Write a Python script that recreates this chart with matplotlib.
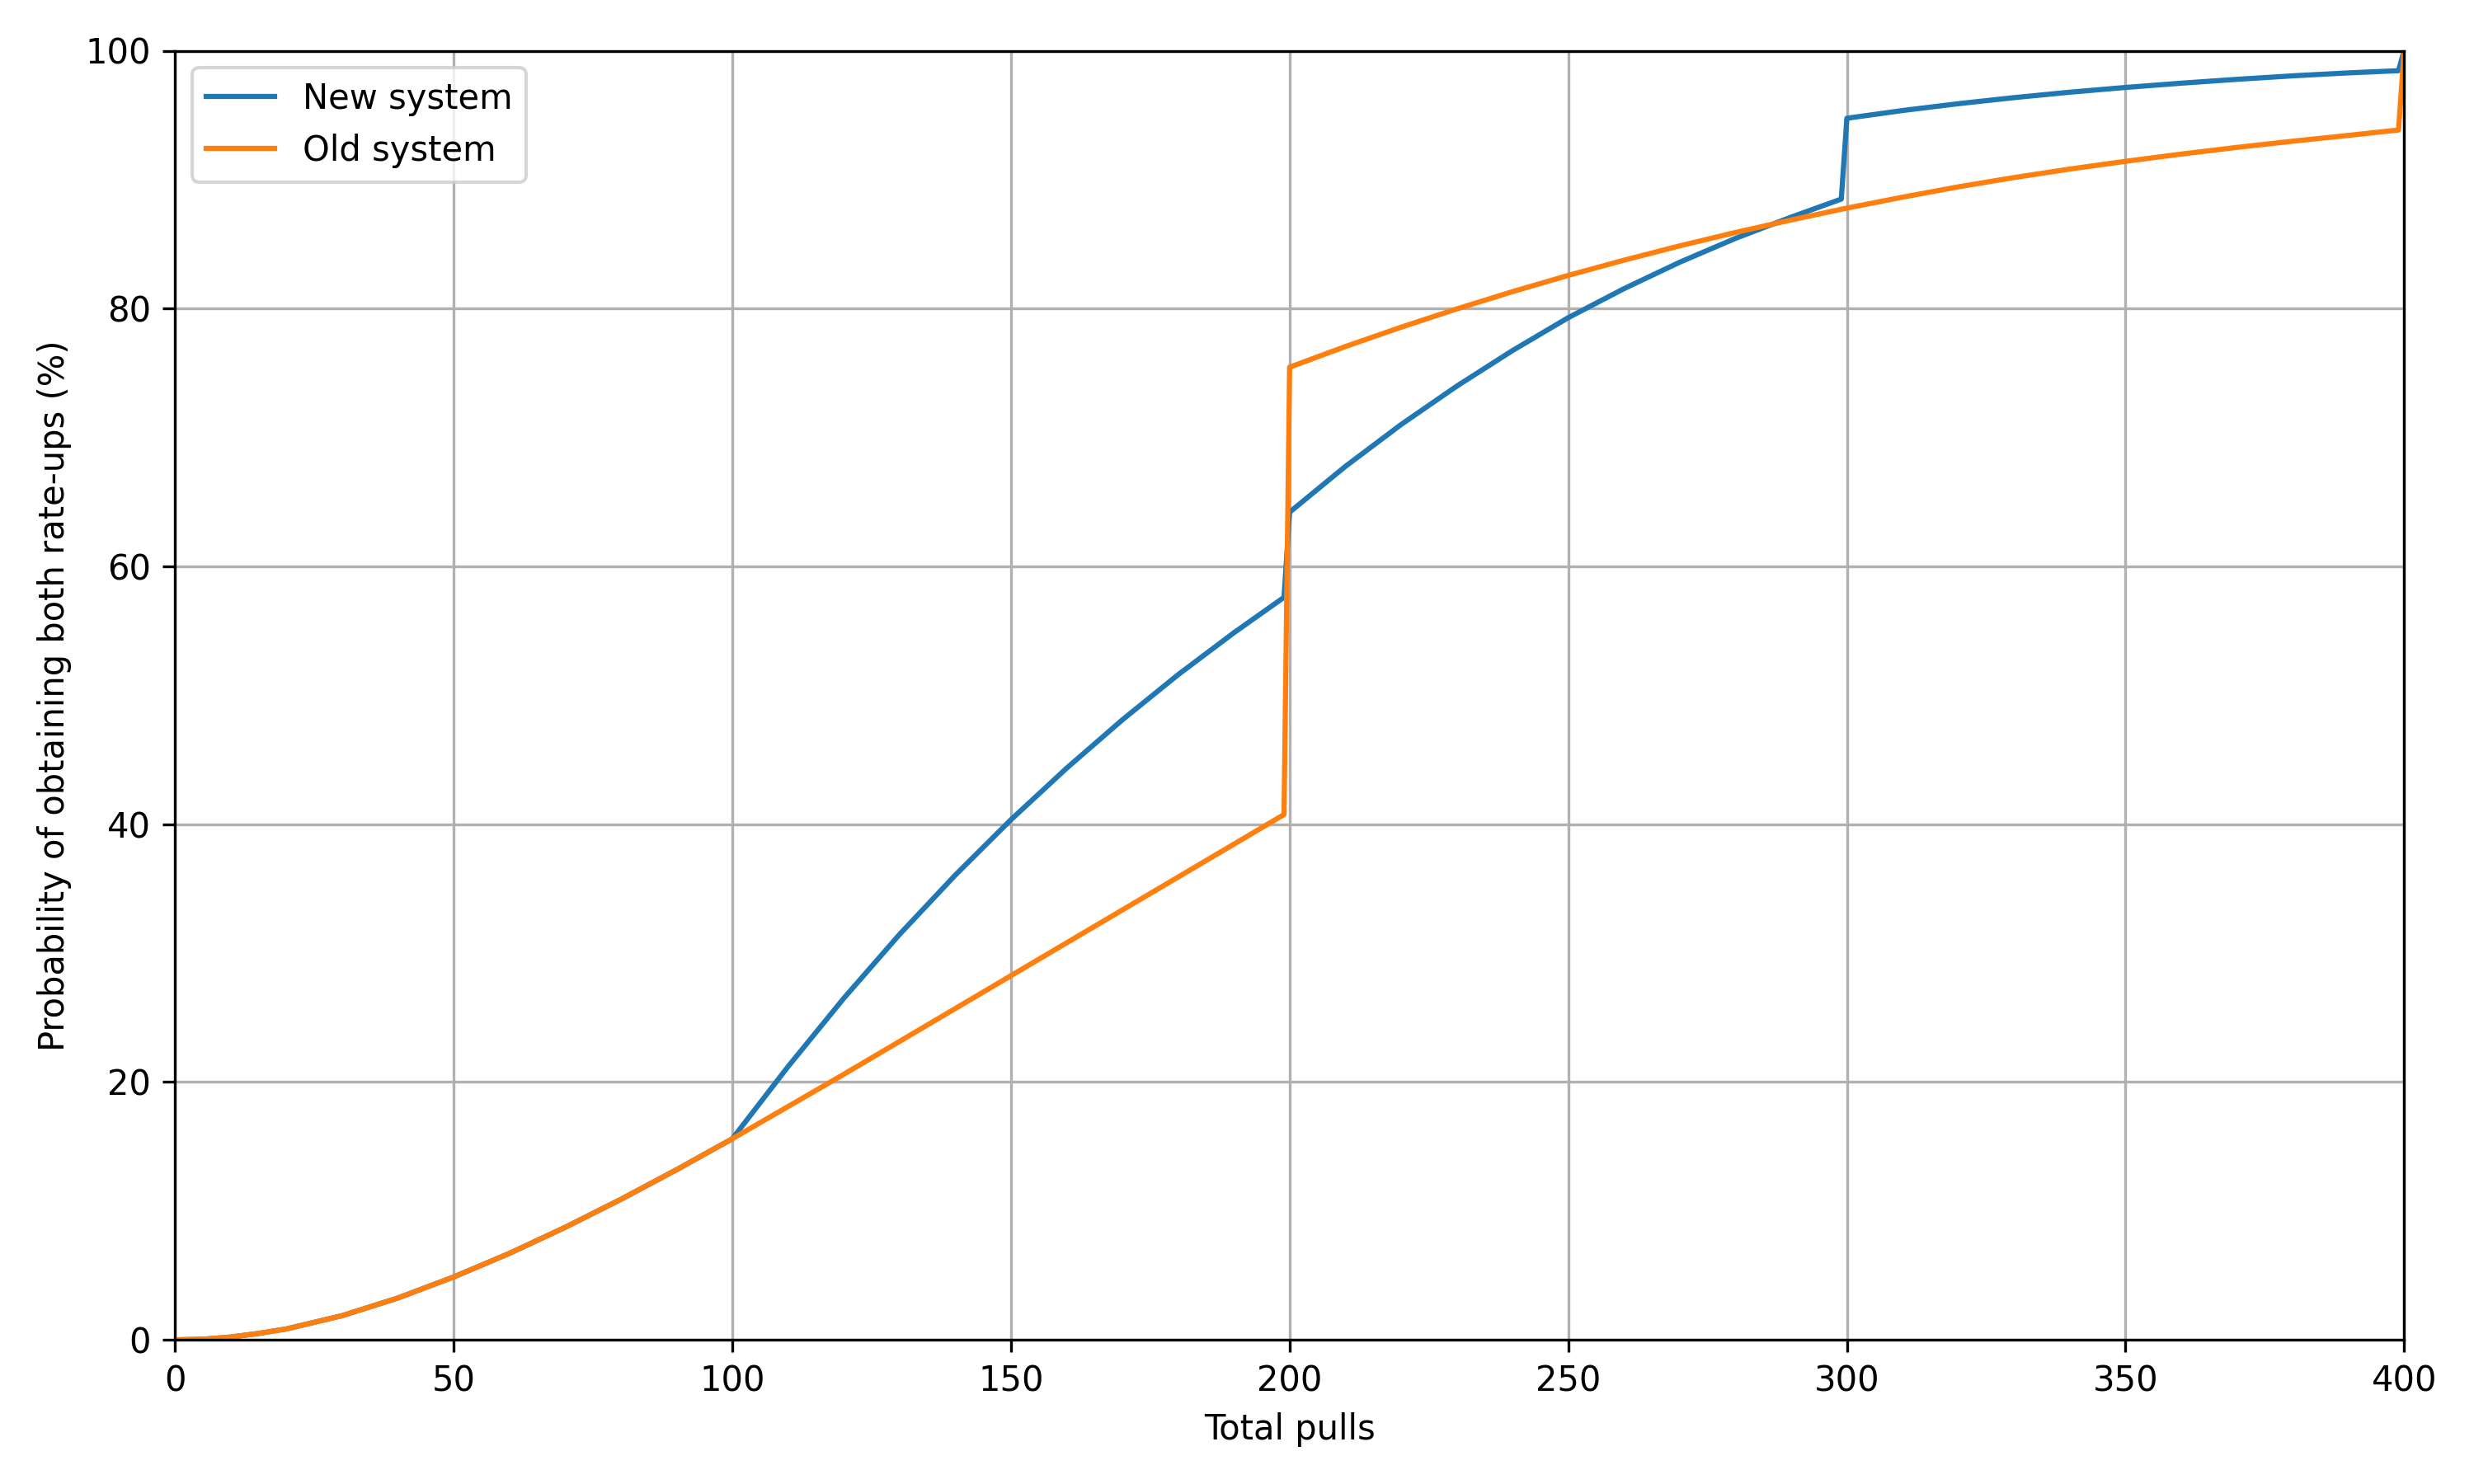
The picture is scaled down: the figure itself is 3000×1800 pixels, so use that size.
"""Probability of getting both rate-ups vs. total pulls, old vs new system."""
import matplotlib
matplotlib.use("Agg")
import matplotlib.pyplot as plt

# values (percent), one entry per pull count
pulls = [0, 5, 10, 15, 20, 30, 40, 50, 60, 70, 80, 90, 100,
         110, 120, 130, 140, 150, 160, 170, 180, 190, 199,
         200, 210, 220, 230, 240, 250, 260, 270, 280, 290, 299,
         300, 310, 320, 330, 340, 350, 360, 370, 380, 390, 399, 400]

new_system = [0.0, 0.05, 0.22, 0.5, 0.85, 1.88, 3.25, 4.88, 6.71, 8.73, 10.9, 13.2, 15.6,
              21.2, 26.5, 31.45, 36.05, 40.35, 44.35, 48.1, 51.6, 54.85, 57.6,
              64.2, 67.75, 71.0, 73.98, 76.74, 79.29, 81.54, 83.59, 85.44, 87.09, 88.49,
              94.76, 95.36, 95.89, 96.36, 96.78, 97.15, 97.48, 97.78, 98.05, 98.28, 98.45, 100.0]

old_system = [0.0, 0.05, 0.22, 0.5, 0.85, 1.88, 3.25, 4.88, 6.71, 8.73, 10.9, 13.2, 15.6,
              18.1, 20.6, 23.15, 25.7, 28.25, 30.8, 33.35, 35.9, 38.45, 40.75,
              75.45, 77.05, 78.55, 79.97, 81.31, 82.57, 83.75, 84.86, 85.9, 86.87, 87.7,
              87.79, 88.64, 89.44, 90.16, 90.82, 91.42, 91.98, 92.5, 92.98, 93.43, 93.85, 100.0]


def main():
    fig, ax = plt.subplots(figsize=(10, 6), dpi=300)
    ax.plot(pulls, new_system, label="New system")
    ax.plot(pulls, old_system, label="Old system")
    ax.set_xlabel("Total pulls")
    ax.set_ylabel("Probability of obtaining both rate-ups (%)")
    ax.set_xlim(0, 400)
    ax.set_ylim(0, 100)
    ax.grid(True)
    ax.legend(loc="upper left")
    fig.tight_layout()
    fig.savefig("out.png", dpi=300)


if __name__ == "__main__":
    main()
